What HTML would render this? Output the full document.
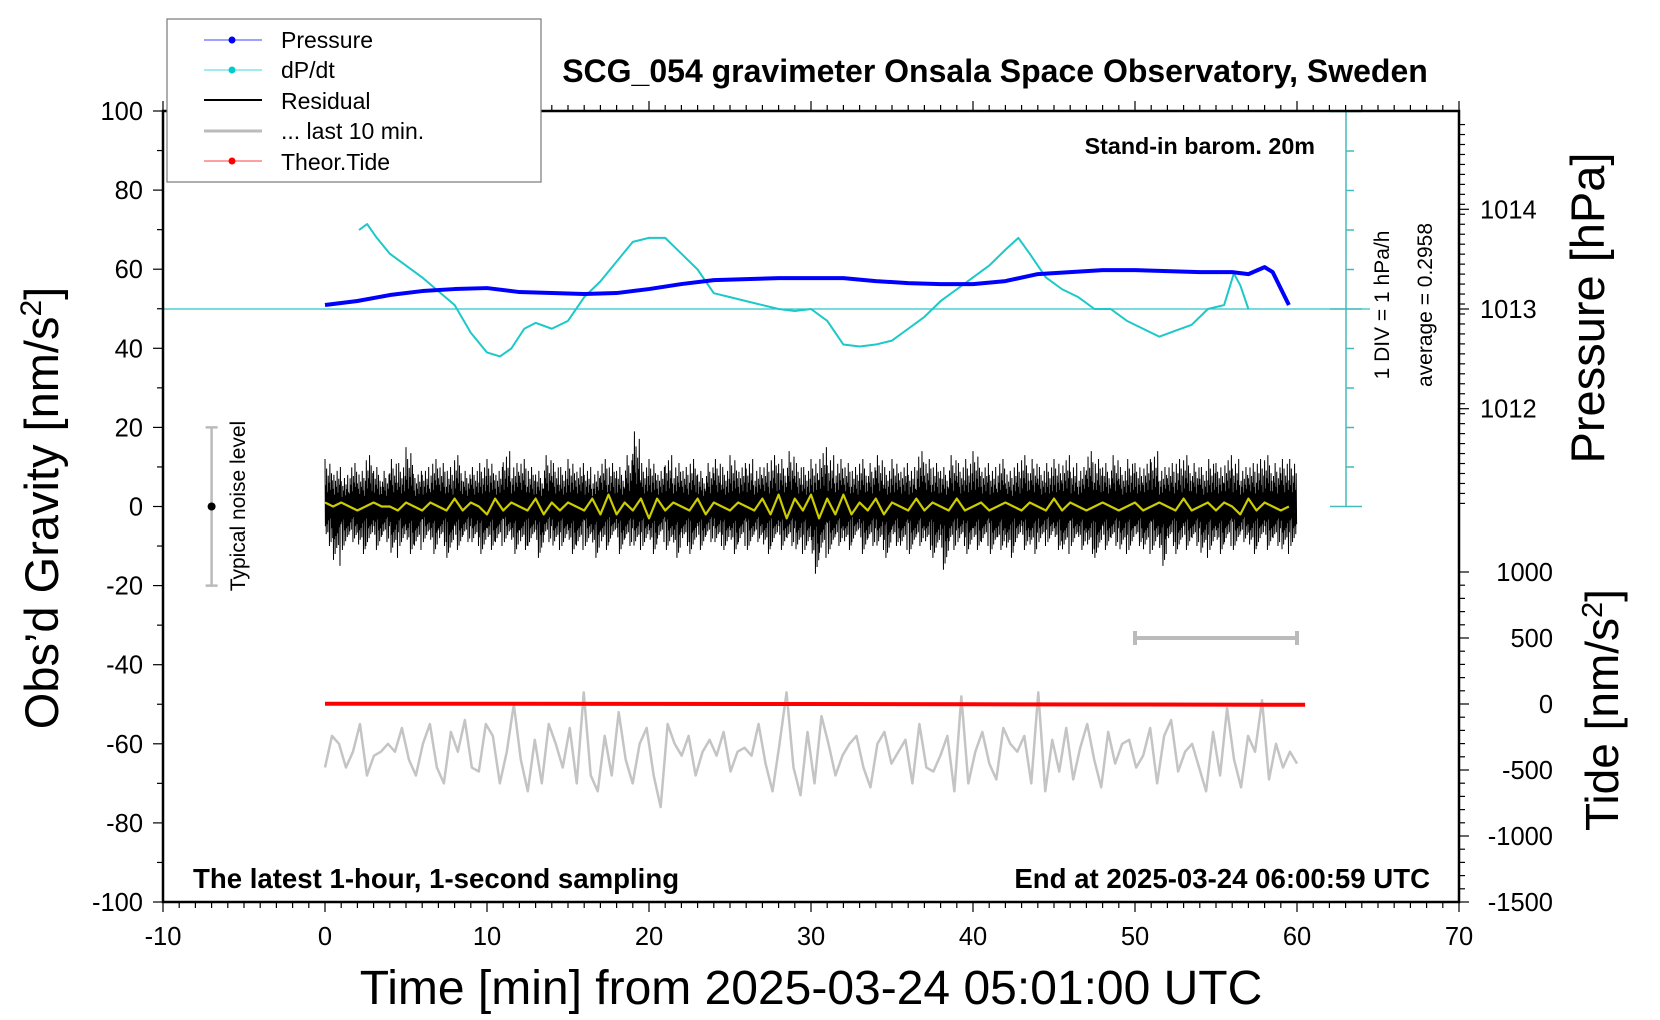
<!DOCTYPE html>
<html><head><meta charset="utf-8"><style>
body{margin:0;background:#fff;}
svg{display:block;font-family:"Liberation Sans",sans-serif;}
</style></head><body>
<svg id="c" width="1660" height="1020" viewBox="0 0 1660 1020">
<g id="grid"></g>
<g id="series"></g>
<g id="axes"></g>
<g id="labels">
<text x="995" y="82" font-size="32" font-weight="bold" text-anchor="middle">SCG_054 gravimeter Onsala Space Observatory, Sweden</text>
<text x="1315" y="154" font-size="23.3" font-weight="bold" text-anchor="end">Stand-in barom. 20m</text>
<text x="193" y="888" font-size="27.6" font-weight="bold">The latest 1-hour, 1-second sampling</text>
<text x="1430" y="888" font-size="27.6" font-weight="bold" text-anchor="end">End at 2025-03-24 06:00:59 UTC</text>
<text x="811" y="1004" font-size="48" text-anchor="middle">Time [min] from 2025-03-24 05:01:00 UTC</text>
<text transform="translate(58,508) rotate(-90)" font-size="47" text-anchor="middle">Obs’d Gravity [nm/s<tspan font-size="30" dy="-17">2</tspan><tspan dy="17">]</tspan></text>
<text transform="translate(1604,308) rotate(-90)" font-size="47" text-anchor="middle">Pressure [hPa]</text>
<text transform="translate(1618,710) rotate(-90)" font-size="46" text-anchor="middle">Tide [nm/s<tspan font-size="29" dy="-16">2</tspan><tspan dy="16">]</tspan></text>
<text transform="translate(1389,305) rotate(-90)" font-size="21" text-anchor="middle">1 DIV = 1 hPa/h</text>
<text transform="translate(1432,305) rotate(-90)" font-size="21" text-anchor="middle">average = 0.2958</text>
<text transform="translate(245,506) rotate(-90)" font-size="21" text-anchor="middle">Typical noise level</text>
</g>
<g id="legend">
<rect x="167" y="19" width="374" height="163" fill="#fff" stroke="#777" stroke-width="1.2"/>
<g><line x1="204" y1="40" x2="262" y2="40" stroke="#00f" stroke-width="0.8"/><circle cx="232" cy="40" r="3.5" fill="#00f"/><text x="281" y="48" font-size="23">Pressure</text></g>
<g><line x1="204" y1="70" x2="262" y2="70" stroke="#0cc" stroke-width="0.8"/><circle cx="232" cy="70" r="3.5" fill="#0cc"/><text x="281" y="78" font-size="23">dP/dt</text></g>
<g><line x1="204" y1="100" x2="262" y2="100" stroke="#000" stroke-width="2"/><text x="281" y="109" font-size="23">Residual</text></g>
<g><line x1="204" y1="131" x2="262" y2="131" stroke="#bbb" stroke-width="3"/><text x="281" y="139" font-size="23">... last 10 min.</text></g>
<g><line x1="204" y1="161" x2="262" y2="161" stroke="#f00" stroke-width="0.8"/><circle cx="232" cy="161" r="3.5" fill="#f00"/><text x="281" y="170" font-size="23">Theor.Tide</text></g>
</g>
</svg>
<script>
// ---- data ----
const xTicks=[-10,0,10,20,30,40,50,60,70];
const gTicks=[100,80,60,40,20,0,-20,-40,-60,-80,-100];
const pTicks=[1014,1013,1012];
const tideTicks=[1000,500,0,-500,-1000,-1500];
const presT=[0,2,4,6,8,10,12,14,16,18,20,22,24,26,28,30,32,34,36,38,40,42,44,46,48,50,52,54,56,57,58,58.5,59.5];
const presV=[1013.04,1013.08,1013.14,1013.18,1013.2,1013.21,1013.17,1013.16,1013.15,1013.16,1013.2,1013.25,1013.29,1013.3,1013.31,1013.31,1013.31,1013.28,1013.26,1013.25,1013.25,1013.28,1013.35,1013.37,1013.39,1013.39,1013.38,1013.37,1013.37,1013.35,1013.42,1013.37,1013.04];
const dpT=[2.1,2.6,3.2,4,5,6,7,8,9,10,10.8,11.5,12.3,13,14,15,16,17,18,19,20,21,22,23,24,25,26,27,28,29,30,31,32,33,34,35,36,37,38,39,40,41,42,42.8,43.5,44.5,45.5,46.5,47.5,48.5,49.5,50.5,51.5,52.5,53.5,54.5,55.5,56.1,56.5,57];
const dpV=[2.0,2.15,1.8,1.4,1.1,0.8,0.45,0.1,-0.6,-1.1,-1.2,-1.0,-0.5,-0.35,-0.5,-0.3,0.3,0.7,1.2,1.7,1.8,1.8,1.4,1.0,0.4,0.3,0.2,0.1,0.0,-0.05,0.0,-0.3,-0.9,-0.95,-0.9,-0.8,-0.5,-0.2,0.2,0.5,0.8,1.1,1.5,1.8,1.4,0.8,0.5,0.3,0.0,0.0,-0.3,-0.5,-0.7,-0.55,-0.4,0.0,0.1,0.9,0.6,0.0];
const resHi=[12,10,8,11,9,13,10,9,12,11,15,9,10,12,11,10,13,9,10,11,12,10,14,11,12,10,9,13,11,10,12,11,10,9,12,11,10,13,19,11,12,10,13,11,10,12,9,11,12,10,13,11,12,10,11,13,12,14,11,10,12,15,13,12,11,10,12,11,13,10,12,11,10,14,12,11,10,13,11,12,14,11,10,12,9,11,13,12,10,11,12,13,11,10,14,12,11,13,10,12,11,12,14,10,11,12,13,11,10,12,11,13,12,10,11,12,13,11,12,12];
const resLo=[-10,-15,-11,-9,-12,-10,-11,-9,-13,-10,-12,-11,-9,-12,-10,-13,-11,-9,-10,-12,-11,-10,-9,-12,-11,-10,-13,-9,-11,-10,-12,-11,-10,-13,-11,-9,-12,-10,-11,-10,-12,-9,-11,-13,-10,-12,-11,-9,-10,-11,-12,-10,-11,-9,-12,-10,-11,-10,-12,-11,-17,-13,-12,-10,-11,-9,-12,-10,-11,-13,-10,-11,-12,-10,-11,-13,-16,-11,-10,-12,-11,-10,-12,-11,-13,-10,-11,-12,-10,-9,-11,-12,-10,-11,-12,-13,-11,-10,-12,-11,-10,-12,-11,-15,-10,-12,-11,-10,-13,-11,-12,-10,-11,-9,-12,-10,-11,-10,-12,-10];
const resAvg=[1,0,1,0,-1,0,1,0,0,-1,1,0,-1,1,0,-1,2,-1,1,0,-2,2,-1,1,0,-1,2,-2,1,-1,1,0,-1,2,-2,3,-2,1,-1,2,-3,2,-1,1,0,-1,2,-2,1,0,-1,1,0,-1,2,-2,3,-3,2,-1,3,-3,2,-2,3,-2,1,-1,2,-2,1,0,-1,2,-1,1,0,-1,2,-1,0,1,-1,0,1,0,-1,1,0,-1,2,-1,1,0,-1,0,1,0,-1,0,1,-1,0,1,0,-1,2,-1,0,1,-1,1,0,-2,2,-1,1,0,-1,0];
const greyV=[-66,-58,-60,-66,-62,-55,-68,-63,-62,-60,-62,-56,-64,-68,-60,-55,-66,-70,-57,-62,-54,-66,-67,-55,-58,-70,-62,-50,-64,-72,-59,-70,-55,-60,-66,-56,-70,-47,-68,-72,-58,-68,-52,-64,-70,-60,-56,-68,-76,-55,-60,-63,-58,-68,-62,-59,-63,-57,-67,-62,-61,-63,-55,-65,-72,-60,-47,-66,-73,-57,-70,-53,-60,-68,-63,-60,-58,-66,-71,-60,-57,-65,-62,-59,-70,-55,-66,-67,-63,-58,-72,-48,-70,-62,-57,-65,-69,-56,-60,-62,-58,-70,-47,-72,-59,-67,-56,-69,-61,-55,-64,-71,-57,-65,-60,-59,-66,-63,-56,-70,-58,-54,-67,-62,-60,-66,-72,-57,-68,-51,-64,-71,-58,-62,-49,-69,-60,-66,-62,-65];
const tideT=[0,10,20,30,40,50,60.5];
const tideV=[2,2,1,0,-2,-4,-6];
// ---- scales ----
const X=t=>163+(t+10)*(1459-163)/80;
const G=v=>902-(v+100)*(902-111)/200;
const P=p=>309-(p-1013)*99.7;
const T=v=>704-v*0.132;
const D=d=>309-d*39.5;
const NS='http://www.w3.org/2000/svg';
function mk(tag,attrs,parent){const e=document.createElementNS(NS,tag);for(const k in attrs)e.setAttribute(k,attrs[k]);parent.appendChild(e);return e;}
const ser=document.getElementById('series'),ax=document.getElementById('axes');
let e=mk('line',{x1:X(-10),y1:309,x2:1370,y2:309,stroke:'#2cc4c4','stroke-width':1.2},ser);

e=mk('line',{x1:1346,y1:111,x2:1346,y2:506,stroke:'#4bb',"stroke-width":1.5},ser);

for(let i=-5;i<=5;i++){const y=D(i);const w=(i==5||i==-5||i==0)?16:8;e=mk('line',{x1:1346-(w==16?16:0),y1:y,x2:1346+w,y2:y,stroke:'#4bb','stroke-width':1.5},ser);
}
const fac=[1,0.45,0.8,0.3,0.65,0.5,0.9,0.35,0.7,0.55];
let pts=[];
for(let i=0;i<resHi.length;i++){const t0=i*0.5;for(let k=0;k<10;k++){const t=t0+k/20;pts.push(X(t)+','+G(resHi[i]*fac[(k+i)%10]));pts.push(X(t+1/40)+','+G(resLo[i]*fac[(k*3+i+5)%10]));}}
e=mk('polyline',{points:pts.join(' '),fill:'none',stroke:'#000','stroke-width':1},ser);

e=mk('polyline',{points:resAvg.map((v,i)=>X(i*0.5)+','+G(v)).join(' '),fill:'none',stroke:'#cc0','stroke-width':2.2,'stroke-linejoin':'round'},ser);

e=mk('polyline',{points:greyV.map((v,i)=>X(i*60/(greyV.length-1))+','+G(v)).join(' '),fill:'none',stroke:'#c4c4c4','stroke-width':2.5,'stroke-linejoin':'round'},ser);

e=mk('polyline',{points:tideT.map((t,i)=>X(t)+','+T(tideV[i])).join(' '),fill:'none',stroke:'#f00','stroke-width':4},ser);

e=mk('polyline',{points:dpT.map((t,i)=>X(t)+','+D(dpV[i])).join(' '),fill:'none',stroke:'#1cc8c8','stroke-width':2,'stroke-linejoin':'round'},ser);

e=mk('polyline',{points:presT.map((t,i)=>X(t)+','+P(presV[i])).join(' '),fill:'none',stroke:'#00f','stroke-width':4,'stroke-linejoin':'round'},ser);

e=mk('path',{d:`M${X(-7)},${G(20)}V${G(-20)}M${X(-7)-6},${G(20)}h12M${X(-7)-6},${G(-20)}h12`,stroke:'#bbb','stroke-width':2.5,fill:'none'},ser);

e=mk('circle',{cx:X(-7),cy:G(0),r:4,fill:'#000'},ser);

e=mk('path',{d:`M${X(50)},${T(500)}H${X(60)}M${X(50)},${T(500)-7}v14M${X(60)},${T(500)-7}v14`,stroke:'#bbb','stroke-width':4,fill:'none'},ser);

e=mk('rect',{x:163,y:111,width:1296,height:791,fill:'none',stroke:'#000','stroke-width':2.5},ax);

for(let t=-10;t<=70;t++){const maj=t%10==0;mk('line',{x1:X(t),y1:902,x2:X(t),y2:902+(maj?10:6),stroke:'#000','stroke-width':1.2},ax);mk('line',{x1:X(t),y1:111,x2:X(t),y2:111-(maj?10:6),stroke:'#000','stroke-width':1.2},ax);}
xTicks.forEach(t=>{e=mk('text',{x:X(t),y:945,'font-size':25.5,'text-anchor':'middle'},ax);e.textContent=t;
});
for(let v=-100;v<=100;v+=10){const maj=v%20==0;mk('line',{x1:163,y1:G(v),x2:163-(maj?10:6),y2:G(v),stroke:'#000','stroke-width':1.2},ax);}
gTicks.forEach(v=>{e=mk('text',{x:143,y:G(v)+9,'font-size':25.5,'text-anchor':'end'},ax);e.textContent=v;
});
for(let p=1011.05;p<=1014.95;p+=0.1){const y=P(p);if(y<111||y>506)continue;mk('line',{x1:1459,y1:y,x2:1465,y2:y,stroke:'#000','stroke-width':1.2},ax);}
for(let p=1011;p<=1015;p++){const y=P(p);if(y>=111&&y<=506)mk('line',{x1:1459,y1:y,x2:1469,y2:y,stroke:'#000','stroke-width':1.2},ax);}
pTicks.forEach(p=>{e=mk('text',{x:1480,y:P(p)+9,'font-size':25.5},ax);e.textContent=p;
});
for(let v=-1500;v<=1000;v+=100){const maj=v%500==0;mk('line',{x1:1459,y1:T(v),x2:1459+(maj?10:6),y2:T(v),stroke:'#000','stroke-width':1.2},ax);}
tideTicks.forEach(v=>{e=mk('text',{x:1553,y:T(v)+9,'font-size':25.5,'text-anchor':'end'},ax);e.textContent=v;
});
</script>
</body></html>
